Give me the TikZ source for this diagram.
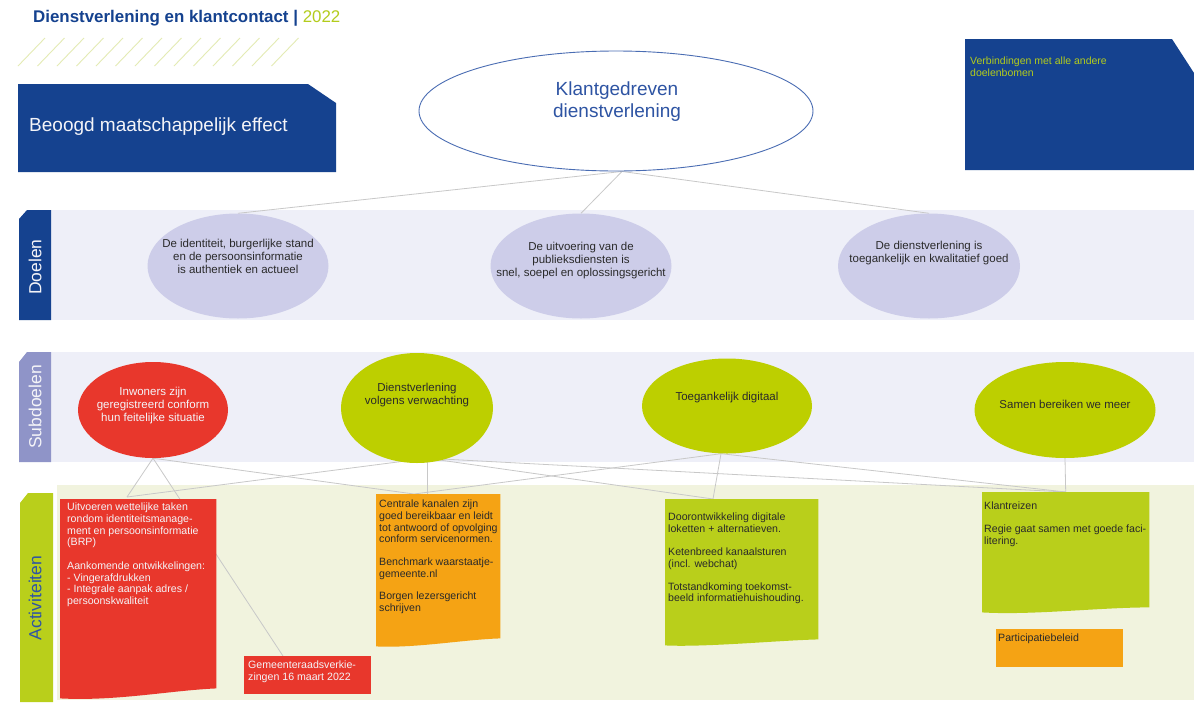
\documentclass[tikz,border=0pt]{standalone}
\usepackage{fontspec}
\setmainfont{Liberation Sans}
\usetikzlibrary{shapes.geometric,calc}
\pgfdeclarelayer{bg}
\pgfdeclarelayer{lines}
\pgfdeclarelayer{boxes}
\pgfsetlayers{bg,lines,boxes,main}
\definecolor{dblue}{HTML}{15428F}
\definecolor{tblue}{HTML}{2E54A3}
\definecolor{eblue}{HTML}{4A6DB3}
\definecolor{lime}{HTML}{BDCF00}
\definecolor{limebox}{HTML}{B9CF1B}
\definecolor{limetxt}{HTML}{B3CC1C}
\definecolor{hatch}{HTML}{E4EBB4}
\definecolor{band}{HTML}{EEEFF8}
\definecolor{aband}{HTML}{F1F3DE}
\definecolor{lav}{HTML}{CDCDE9}
\definecolor{tabpurple}{HTML}{8F94C8}
\definecolor{rred}{HTML}{E8372C}
\definecolor{orng}{HTML}{F5A314}
\definecolor{conn}{HTML}{C8C8C8}
\definecolor{dtext}{HTML}{2A2A2A}
\definecolor{wtext}{HTML}{F4F4F8}
\begin{document}
\begin{tikzpicture}[x=1pt,y=-1pt,
  conn/.style={draw=conn, line width=0.8pt},
  oval/.style={ellipse, inner sep=0pt, draw=none},
  txt/.style={inner sep=0pt, align=center},
  ovtxt/.style={inner sep=0pt, align=center, font=\fontsize{11.5}{13}\selectfont},
  acttxt/.style={inner sep=0pt, align=left, anchor=north west, font=\fontsize{10.6}{11.7}\selectfont},
  tabtxt/.style={rotate=90, inner sep=0pt, font=\fontsize{17.5}{20}\selectfont},
  actbox/.style={rectangle, inner sep=0pt, anchor=north west, draw=none}
]
\useasboundingbox (0,0) rectangle (1194,702);

% bands
\begin{pgfonlayer}{bg}
\fill[white] (0,0) rectangle (1194,702);
\fill[band] (51,210) rectangle (1194,320);
\fill[band] (51,352) rectangle (1194,462);
\fill[aband] (57,485) rectangle (1194,700);
\end{pgfonlayer}

% title
\node[anchor=base west, inner sep=0pt] (title) at (33,22)
  {\fontsize{16.9}{18}\selectfont\bfseries\color{dblue}Dienstverlening en klantcontact | \mdseries\color{limetxt}2022};

% hatch
\foreach \i in {0,...,13} \draw[hatch, line width=0.9pt] ({18+19.5*\i},66) -- ({45+19.5*\i},38);

% top left box
\fill[dblue] (18,84) -- (308,84) -- (336,103) -- (336,172) -- (18,172) -- cycle;
\node[anchor=west, inner sep=0pt, text=wtext, font=\fontsize{19}{22}\selectfont] (effect) at (29,127) {Beoogd maatschappelijk effect};

% top right box
\fill[dblue] (965,39) -- (1172,39) -- (1194,73) -- (1194,170) -- (965,170) -- cycle;
\node[anchor=north west, inner sep=0pt, align=left, text=limetxt, font=\fontsize{10.5}{11.7}\selectfont] (verb) at (970,57) {Verbindingen met alle andere\\doelenbomen};

% top ellipse
\node[ellipse, inner sep=0pt, draw=eblue, line width=0.9pt, fill=white, minimum width=394pt, minimum height=120pt] (top) at (616,111) {};
\node[txt, text=tblue, font=\fontsize{19}{22}\selectfont] (topt) at (617,102) {Klantgedreven\\dienstverlening};

% tabs
\fill[dblue] (19,219) -- (27,210) -- (51,210) -- (51,320) -- (19,320) -- cycle;
\node[tabtxt, text=wtext] (tabd) at (35,267) {Doelen};
\fill[tabpurple] (19,362) -- (27,352) -- (51,352) -- (51,462) -- (19,462) -- cycle;
\node[tabtxt, text=wtext] (tabs) at (35,407) {Subdoelen};
\fill[limebox] (20,503) -- (28,493) -- (53,493) -- (53,702) -- (20,702) -- cycle;
\node[tabtxt, text=tblue] (taba) at (35,598) {Activiteiten};

% goals
\node[oval, fill=lav, minimum width=181pt, minimum height=105pt] (g1) at (238,266) {};
\node[ovtxt, text=dtext] (g1t) at (238,256) {De identiteit, burgerlijke stand\\en de persoonsinformatie\\is authentiek en actueel};
\node[oval, fill=lav, minimum width=181pt, minimum height=105pt] (g2) at (581,266) {};
\node[ovtxt, text=dtext] (g2t) at (581,261) {De uitvoering van de\\publieksdiensten is\\snel, soepel en oplossingsgericht};
\node[oval, fill=lav, minimum width=182pt, minimum height=105pt] (g3) at (929,266) {};
\node[ovtxt, text=dtext] (g3t) at (929,253) {De dienstverlening is\\toegankelijk en kwalitatief goed};

% subgoals
\node[oval, fill=rred, minimum width=150pt, minimum height=96pt] (s1) at (153,410) {};
\node[ovtxt, text=wtext] (s1t) at (153,406) {Inwoners zijn\\geregistreerd conform\\hun feitelijke situatie};
\node[oval, fill=lime, minimum width=152pt, minimum height=110pt] (s2) at (417,408) {};
\node[ovtxt, text=dtext] (s2t) at (417,395) {Dienstverlening\\volgens verwachting};
\node[oval, fill=lime, minimum width=170pt, minimum height=95pt] (s3) at (727,406) {};
\node[ovtxt, text=dtext] (s3t) at (727,398) {Toegankelijk digitaal};
\node[oval, fill=lime, minimum width=181pt, minimum height=96pt] (s4) at (1065,410) {};
\node[ovtxt, text=dtext] (s4t) at (1065,404) {Samen bereiken we meer};

% activity boxes (named frames; fills drawn on the boxes layer)
\node[actbox, minimum width=156pt, minimum height=189pt] (a1) at (60,499) {};
\node[acttxt, text=wtext] (a1t) at ($(a1.north west)+(7,4)$) {Uitvoeren wettelijke taken\\rondom identiteitsmanage-\\ment en persoonsinformatie\\(BRP)\\[11.7pt]Aankomende ontwikkelingen:\\- Vingerafdrukken\\- Integrale aanpak adres /\\persoonskwaliteit};

\node[actbox, minimum width=127pt, minimum height=38pt] (a1b) at (244,656) {};
\node[acttxt, text=wtext] (a1bt) at ($(a1b.north west)+(4,5)$) {Gemeenteraadsverkie-\\zingen 16 maart 2022};

\node[actbox, minimum width=124pt, minimum height=144pt] (a2) at (376,494) {};
\node[acttxt, text=dtext] (a2t) at ($(a2.north west)+(3,6)$) {Centrale kanalen zijn\\goed bereikbaar en leidt\\tot antwoord of opvolging\\conform servicenormen.\\[10.8pt]Benchmark waarstaatje-\\gemeente.nl\\[10.8pt]Borgen lezersgericht\\schrijven};

\node[actbox, minimum width=153pt, minimum height=140pt] (a3) at (665,499) {};
\node[acttxt, text=dtext] (a3t) at ($(a3.north west)+(3,14)$) {Doorontwikkeling digitale\\loketten + alternatieven.\\[11.3pt]Ketenbreed kanaalsturen\\(incl. webchat)\\[11.3pt]Totstandkoming toekomst-\\beeld informatiehuishouding.};

\node[actbox, minimum width=167pt, minimum height=115pt] (a4) at (982,492) {};
\node[acttxt, text=dtext] (a4t) at ($(a4.north west)+(2,10)$) {Klantreizen\\[11.3pt]Regie gaat samen met goede faci-\\litering.};

\node[actbox, minimum width=127pt, minimum height=38pt] (a5) at (996,629) {};
\node[acttxt, text=dtext] (a5t) at ($(a5.north west)+(2,5)$) {Participatiebeleid};

\begin{pgfonlayer}{boxes}
\fill[rred] (a1.north west) -- (a1.north east) -- (a1.south east)
  .. controls ($(a1.south east)+(-46,2)$) and ($(a1.south west)+(56,13)$) .. ($(a1.south west)+(0,10)$) -- cycle;
\fill[rred] (a1b.north west) rectangle (a1b.south east);
\fill[orng] (a2.north west) -- (a2.north east) -- (a2.south east)
  .. controls ($(a2.south east)+(-36,1)$) and ($(a2.south west)+(40,10)$) .. ($(a2.south west)+(0,8)$) -- cycle;
\fill[limebox] (a3.north west) -- (a3.north east) -- (a3.south east)
  .. controls ($(a3.south east)+(-40,1)$) and ($(a3.south west)+(40,8)$) .. ($(a3.south west)+(0,6)$) -- cycle;
\fill[limebox] (a4.north west) -- (a4.north east) -- (a4.south east)
  .. controls ($(a4.south east)+(-50,0)$) and ($(a4.south west)+(50,8)$) .. ($(a4.south west)+(0,5)$) -- cycle;
\fill[orng] (a5.north west) rectangle (a5.south east);
\end{pgfonlayer}

% connector end points
\coordinate (a1in) at ($(a1.north west)+(67,-2)$);
\coordinate (a1bin) at ($(a1b.north west)+(39,0)$);
\coordinate (a2in) at ($(a2.north west)+(38,0)$);
\coordinate (a2v) at ($(a2.north west)+(51,0)$);
\coordinate (a3in) at ($(a3.north west)+(48,0)$);
\coordinate (s2out) at ($(s2.south)+(10,-5)$);
\coordinate (s3out) at ($(s3.south)+(-6,0)$);
\coordinate (topout) at ($(top.south)+(6,0)$);

\begin{pgfonlayer}{lines}
\draw[conn] (topout) -- (g1.north);
\draw[conn] (topout) -- (g2.north);
\draw[conn] (topout) -- (g3.north);
\draw[conn] (s1.south) -- (a1in);
\draw[conn] (s1.south) -- (a1bin);
\draw[conn] (s1.south) -- (a2in);
\draw[conn] (s2out) -- (a1in);
\draw[conn] (s2out) -- (a2v);
\draw[conn] (s2out) -- (a3in);
\draw[conn] (s2out) -- (a4.north);
\draw[conn] (s3out) -- (a2in);
\draw[conn] (s3out) -- (a3in);
\draw[conn] (s3out) -- (a4.north);
\draw[conn] (s4.south) -- (a4.north);
\end{pgfonlayer}
\end{tikzpicture}
\end{document}
